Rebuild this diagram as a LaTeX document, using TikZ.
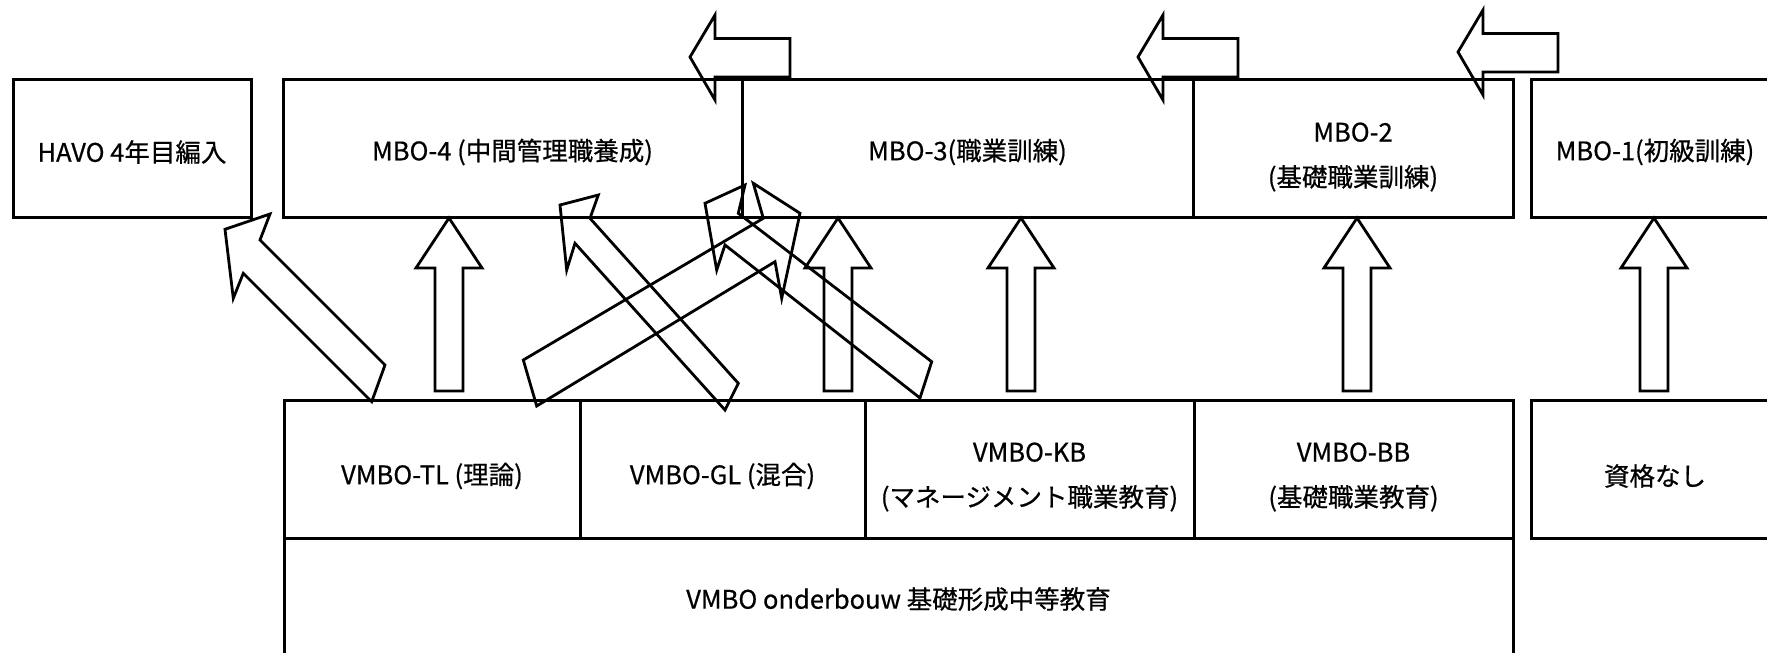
\documentclass[tikz,border=0pt]{standalone}
\usepackage{fontspec}
\setmainfont{Noto Sans CJK JP}[BoldFont={Noto Sans CJK JP},BoldFeatures={FakeBold=0.6}]
\begin{document}
\begin{tikzpicture}[x=1pt,y=-1pt,
  cell/.style={draw,line width=3pt,inner sep=0pt,minimum height=138pt},
  lbl/.style={align=center,inner sep=0pt,yshift=-4pt,font=\fontsize{25.5}{45}\selectfont\bfseries},
  barrow/.style={draw,line width=2.8pt,line join=miter},
  pics/uparrow/.style={code={\draw[barrow] (0,0) -- (33,50) -- (14,50) -- (14,173) -- (-14,173) -- (-14,50) -- (-33,50) -- cycle;}},
  pics/leftarrow/.style={code={\draw[barrow] (0,0) -- (25,-42) -- (25,-18.5) -- (100,-18.5) -- (100,20) -- (25,20) -- (25,43) -- cycle;}}]
\useasboundingbox (0,0) rectangle (1767,653);
\fill[white] (0,0) rectangle (1767,653);
\begin{scope}
\clip (0,0) rectangle (1767,653);
% top row
\node[cell,minimum width=238pt,label={[lbl]center:HAVO 4年目編入}] (havo) at (132,148) {};
\node[cell,minimum width=459pt,label={[lbl]center:MBO-4 (中間管理職養成)}] (mbo4) at (512.5,148) {};
\node[cell,minimum width=451pt,label={[lbl]center:MBO-3(職業訓練)}] (mbo3) at (967.5,148) {};
\node[cell,minimum width=320pt,label={[lbl,yshift=-5pt]center:MBO-2\\(基礎職業訓練)}] (mbo2) at (1353,148) {};
\node[cell,minimum width=248pt,label={[lbl]center:MBO-1(初級訓練)}] (mbo1) at (1655,148) {};
% bottom rows
\node[cell,minimum width=296pt,label={[lbl,yshift=-3pt]center:VMBO-TL (理論)}] (tl) at (432,469) {};
\node[cell,minimum width=285pt,label={[lbl,yshift=-3pt]center:VMBO-GL (混合)}] (gl) at (722.5,469) {};
\node[cell,minimum width=329pt,label={[lbl,yshift=-4pt]center:VMBO-KB\\(マネージメント職業教育)}] (kb) at (1029.5,469) {};
\node[cell,minimum width=319pt,label={[lbl,yshift=-4pt]center:VMBO-BB\\(基礎職業教育)}] (bb) at (1353.5,469) {};
\node[cell,minimum width=248pt,label={[lbl,yshift=-3pt]center:資格なし}] (none) at (1655,469) {};
\node[cell,minimum width=1229pt,minimum height=118pt,label={[lbl,yshift=2pt]center:VMBO onderbouw 基礎形成中等教育}] (onder) at (898.5,597) {};
% left arrows on top
\pic at (690,57) {leftarrow};
\pic at (1138,57) {leftarrow};
\pic at (1458,52) {leftarrow};
% up arrows
\pic at (449,218) {uparrow};
\pic at (838,218) {uparrow};
\pic at (1021,218) {uparrow};
\pic at (1357,218) {uparrow};
\pic at (1654,218) {uparrow};
% diagonal arrows
\draw[barrow] (385,365) -- (260,240) -- (270,214) -- (225,229.3) -- (233.3,298.3) -- (243.3,273.3) -- (371.7,401.7) -- cycle;
\draw[barrow] (738.3,383.3) -- (590,218.3) -- (598.3,195) -- (560,205) -- (566.7,270) -- (575,243.3) -- (725,410) -- cycle;
\draw[barrow] (536.7,406) -- (523.3,360) -- (763.3,218.3) -- (753.3,183.3) -- (800,213.3) -- (781.7,298.3) -- (775,261.7) -- cycle;
\draw[barrow] (931.7,361.7) -- (738.3,213.3) -- (745,185) -- (705,203.3) -- (716.7,270) -- (725,245) -- (920,398) -- cycle;
\end{scope}
\end{tikzpicture}
\end{document}
